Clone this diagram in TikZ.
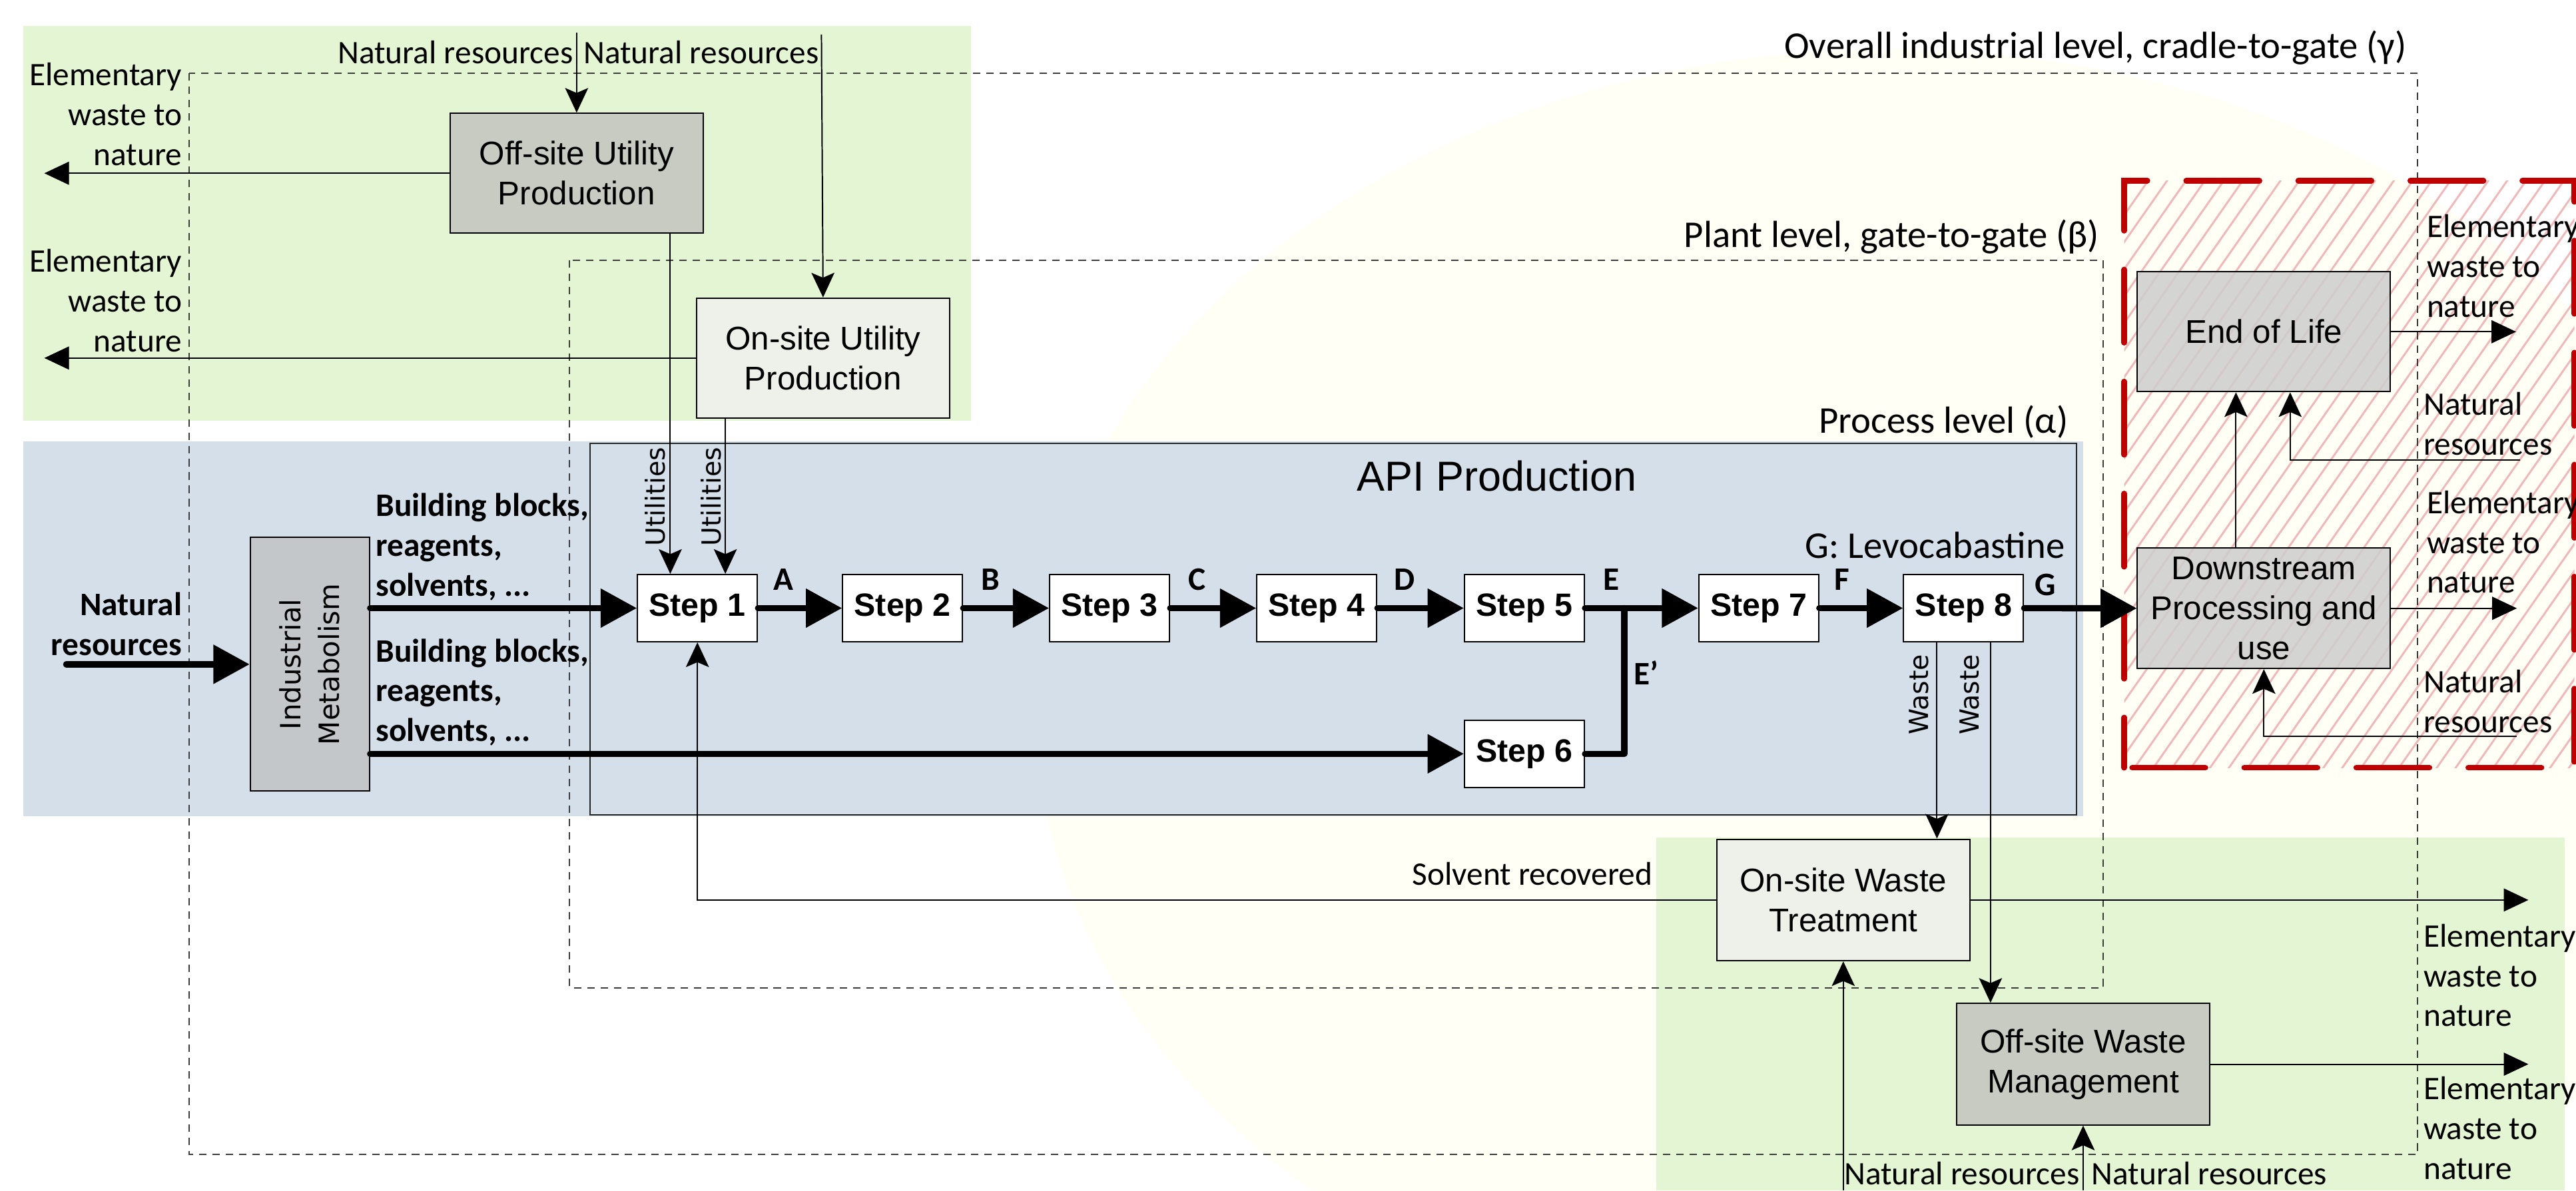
\documentclass[tikz,border=0pt]{standalone}
\usepackage{fontspec}
\setmainfont{Carlito}
\newfontfamily\arialf{Liberation Sans}
\newfontfamily\verdf{DejaVu Sans}
\usetikzlibrary{arrows.meta}

\definecolor{bgGreen}{RGB}{228,245,212}
\definecolor{bgBlue}{RGB}{213,223,234}
\definecolor{bgYellow}{RGB}{255,255,246}
\definecolor{utilOff}{RGB}{199,203,194}
\definecolor{utilOn}{RGB}{237,241,234}
\definecolor{metab}{RGB}{196,199,201}
\definecolor{lifeGray}{RGB}{205,205,205}
\definecolor{redLine}{RGB}{192,0,0}
\definecolor{hatchPink}{RGB}{240,184,184}
\definecolor{frameGray}{RGB}{60,60,60}

\begin{document}
\begin{tikzpicture}[x=1pt,y=-1pt,
  lbl/.style={font=\fontsize{20}{24.2}\selectfont, inner sep=0pt},
  lvl/.style={font=\fontsize{23}{27}\selectfont, inner sep=0pt},
  lblb/.style={font=\bfseries\fontsize{20}{24.2}\selectfont, inner sep=0pt},
  proc/.style={draw=black, line width=0.8pt, inner sep=0pt, align=center,
    font=\arialf\fontsize{20}{24.4}\selectfont, minimum width=154pt, minimum height=73pt},
  stepbox/.style={draw=black, line width=0.8pt, fill=white, inner sep=0pt,
    font=\arialf\bfseries\fontsize{19.6}{24}\selectfont, minimum width=73pt, minimum height=41pt},
  vlbl/.style={font=\verdf\fontsize{16}{20}\selectfont, inner sep=0pt, rotate=90},
  flow/.style={line width=0.8pt, -{Triangle[length=15pt,width=14pt]}},
  flowc/.style={line width=0.8pt, -{Stealth[length=15pt,width=14pt,inset=3pt]}},
  main/.style={line width=3.8pt, line cap=round, -{Triangle[length=22pt,width=23pt]}},
  region/.style={draw=frameGray, line width=0.8pt, dash pattern=on 4.5pt off 3.6pt},
]
\useasboundingbox (0,0) rectangle (1568,725);

% soft backdrop and coloured zones
\fill[bgYellow] (1150,430) ellipse [x radius=520, y radius=400];
\fill[bgGreen] (14,16) rectangle (591,256);
\fill[bgBlue] (14,268.6) rectangle (1268,497);
\fill[bgGreen] (1008,510) rectangle (1561,725);

% hatching of the use phase
\begin{scope}
  \clip (1293,110) rectangle (1567,467.5);
  \foreach \i in {0,...,56}
    \draw[hatchPink, line width=1.2pt] (1010+11.5*\i,470) -- ++(253,-362);
\end{scope}

% system boundaries
\draw[region] (115.3,44.6) rectangle (1471.5,703);
\draw[region] (346.7,158.5) rectangle (1280,601.4);
\node[lvl, anchor=east] (lvlG) at (1465,29) {Overall industrial level, cradle-to-gate (γ)};
\node[lvl, anchor=east] (lvlB) at (1278,144) {Plant level, gate-to-gate (β)};
\node[lvl, anchor=east] (lvlA) at (1259,257) {Process level (α)};

% API production frame
\node[draw=black!85, line width=0.8pt, minimum width=905pt, minimum height=226pt, inner sep=0pt] (api) at (811.5,383) {};
\node[font=\arialf\fontsize{25.5}{30}\selectfont, inner sep=0pt] (apit) at (911,290) {API Production};

% process boxes
\node[proc, fill=utilOff] (offu) at (351,105.5) {Off-site Utility\\Production};
\node[proc, fill=utilOn] (onu) at (501,218) {On-site Utility\\Production};
\node[proc, fill=metab, minimum width=72.6pt, minimum height=154.5pt] (im) at (188.6,404.5) {};
\node[font=\verdf\fontsize{17}{23.5}\selectfont, rotate=90, align=center, inner sep=0pt] (imt) at (im.center) {Industrial\\Metabolism};

\node[stepbox] (s1) at (424.5,370.3) {Step 1};
\node[stepbox] (s2) at (549.4,370.3) {Step 2};
\node[stepbox] (s3) at (675.4,370.3) {Step 3};
\node[stepbox] (s4) at (801.5,370.3) {Step 4};
\node[stepbox] (s5) at (927.9,370.3) {Step 5};
\node[stepbox] (s6) at (927.9,459) {Step 6};
\node[stepbox] (s7) at (1070.5,370.3) {Step 7};
\node[stepbox] (s8) at (1195.2,370.3) {Step 8};

\node[proc, fill=lifeGray, fill opacity=0.85, text opacity=1, minimum height=73.3pt] (dsp) at (1378,370.4) {Downstream\\Processing and\\use};
\node[proc, fill=lifeGray, fill opacity=0.85, text opacity=1] (eol) at (1378,202) {End of Life};
\node[proc, fill=utilOn, minimum height=74pt] (onw) at (1122,548) {On-site Waste\\Treatment};
\node[proc, fill=utilOff, minimum height=74pt] (offw) at (1268,648) {Off-site Waste\\Management};

% red boundary of the downstream phase
\draw[redLine, line width=3.4pt, line cap=round, dash pattern=on 44.6pt off 23.6pt, dash phase=14pt]
  (1293,467.5) -- (1293,110) -- (1567,110) -- (1567,467.5) -- cycle;

% free ends of the flows
\coordinate (nrTop1) at (351,20);
\coordinate (nrTop2) at (500,21);
\coordinate (ewOffU) at (27,105.5);
\coordinate (ewOnU) at (27,218);
\coordinate (nrIn) at (40.3,404.5);
\coordinate (ej) at (988.7,370.3);
\coordinate (ewOnW) at (1539,548);
\coordinate (ewOffW) at (1539,648);
\coordinate (nrOnW) at (1122,725);
\coordinate (nrOffW) at (1268,725);
\coordinate (ewDsp) at (1532,370.4);
\coordinate (ewEol) at (1531.5,202);
\coordinate (nrEol) at (1534,280);
\coordinate (nrDsp) at (1532,448.5);

% thin flows
\draw[flowc] (nrTop1) -- (offu.north);
\draw[flowc] (nrTop2) -- (onu.north);
\draw[flow] (offu.west) -- (ewOffU);
\draw[flow] (onu.west) -- (ewOnU);
\draw[flowc] ([xshift=-16.5pt]s1.north |- offu.south) -- ([xshift=-16.5pt]s1.north);
\draw[flowc] ([xshift=17pt]s1.north |- onu.south) -- ([xshift=17pt]s1.north);
\draw[flowc] (onw.west) -| (s1.south);
\draw[flowc] ([xshift=-16.2pt]s8.south) -- ([xshift=-16.2pt]s8.south |- onw.north);
\draw[flowc] ([xshift=16.4pt]s8.south) -- ([xshift=16.4pt]s8.south |- offw.north);
\draw[flow] (onw.east) -- (ewOnW);
\draw[flow] (offw.east) -- (ewOffW);
\draw[flowc] (nrOnW) -- (onw.south);
\draw[flowc] (nrOffW) -- (offw.south);
\draw[flow] (dsp.east) -- (ewDsp);
\draw[flow] (eol.east) -- (ewEol);
\draw[flowc] ([xshift=-17pt]dsp.north) -- ([xshift=-17pt]eol.south);
\draw[flowc] (nrEol) -| ([xshift=16pt]eol.south);
\draw[flowc] (nrDsp) -| (dsp.south);

% main material flows
\draw[main] (nrIn) -- (im.west);
\draw[main] (im.east |- s1.west) -- (s1.west);
\draw[main] (im.east |- s6.west) -- (s6.west);
\draw[main] (s1.east) -- (s2.west);
\draw[main] (s2.east) -- (s3.west);
\draw[main] (s3.east) -- (s4.west);
\draw[main] (s4.east) -- (s5.west);
\draw[line width=3.8pt, line cap=round, line join=round] (s6.east) -| (ej);
\draw[main] (s5.east) -- (s7.west);
\draw[main] (s7.east) -- (s8.west);
\draw[main] (s8.east) -- (dsp.west);

% flow labels
\node[lbl, anchor=east] (t1) at (349,32) {Natural resources};
\node[lbl, anchor=west] (t2) at (355,32) {Natural resources};
\node[lbl, anchor=east, align=right] (t3) at (111,69.6) {Elementary\\waste to\\nature};
\node[lbl, anchor=east, align=right] (t4) at (111,183) {Elementary\\waste to\\nature};
\node[lblb, anchor=east, align=right] (t5) at (111,380) {Natural\\resources};
\node[lblb, anchor=west, align=left] (t6) at (228.6,333) {Building blocks,\\reagents,\\solvents, ...};
\node[lblb, anchor=west, align=left] (t7) at (228.6,421.5) {Building blocks,\\reagents,\\solvents, ...};
\node[vlbl] (u1) at (399,302.5) {Utilities};
\node[vlbl] (u2) at (433,302.5) {Utilities};
\node[vlbl] (w1) at (1168,423) {Waste};
\node[vlbl] (w2) at (1199,423) {Waste};
\node[lblb] (fa) at (477,353) {A};
\node[lblb] (fb) at (603,353) {B};
\node[lblb] (fc) at (728.5,353) {C};
\node[lblb] (fd) at (855,353) {D};
\node[lblb] (fe) at (981,353) {E};
\node[lblb] (fe2) at (1002,409.5) {E’};
\node[lblb] (ff) at (1121,353) {F};
\node[lblb] (fg) at (1245,356) {G};
\node[lvl, anchor=east] (lev) at (1257,332) {G: Levocabastine};
\node[lbl, anchor=east] (solv) at (1006,532) {Solvent recovered};
\node[lbl, anchor=west, align=left] (t8) at (1477,162) {Elementary\\waste to\\nature};
\node[lbl, anchor=west, align=left] (t9) at (1475,258) {Natural\\resources};
\node[lbl, anchor=west, align=left] (t10) at (1477,330) {Elementary\\waste to\\nature};
\node[lbl, anchor=west, align=left] (t11) at (1475,427) {Natural\\resources};
\node[lbl, anchor=west, align=left] (t12) at (1475,594) {Elementary\\waste to\\nature};
\node[lbl, anchor=west, align=left] (t13) at (1475,687) {Elementary\\waste to\\nature};
\node[lbl, anchor=east] (t14) at (1266,714.5) {Natural resources};
\node[lbl, anchor=west] (t15) at (1273,714.5) {Natural resources};
\end{tikzpicture}
\end{document}
